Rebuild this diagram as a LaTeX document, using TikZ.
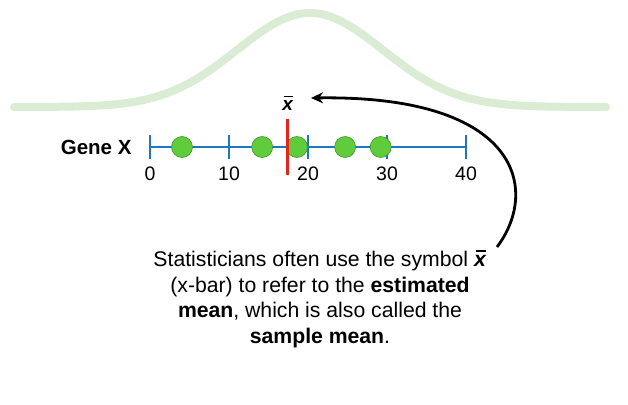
\documentclass[tikz,border=0pt]{standalone}
\usepackage{fontspec}
\setmainfont{Liberation Sans}
\usepackage{xcolor}
\usetikzlibrary{arrows.meta}
\definecolor{bellgreen}{RGB}{218,236,212}
\definecolor{axblue}{RGB}{30,118,196}
\definecolor{dotgreen}{RGB}{96,204,60}
\definecolor{dotedge}{RGB}{60,150,40}
\definecolor{meanred}{RGB}{230,36,30}
\tikzset{
  bell/.style={line width=8pt,bellgreen,line cap=round},
  ax/.style={line width=2.4pt,axblue},
  tk/.style={line width=2.2pt,axblue},
  pt/.style={circle,fill=dotgreen,draw=dotedge,line width=0.6pt,minimum size=21pt,inner sep=0pt},
  mn/.style={line width=3pt,meanred},
  ptr/.style={line width=2.8pt,-{Stealth[length=12pt,width=11pt]}},
  num/.style={font=\fontsize{19.5}{21}\selectfont,anchor=center}
}
\newcommand{\xbr}{\leavevmode\rlap{\hspace{0.1em}\raisebox{0.68em}{\rule{0.48em}{0.1em}}}\textbf{\textit{x}}}

\begin{document}
\begin{tikzpicture}[x=1pt,y=-1pt]
\useasboundingbox (0,0) rectangle (628,404);
\draw[bell] plot[domain=14:606,samples=120] (\x,{107-94*exp(-((\x-310)/73)^2/2)});
\coordinate (a0) at (150,147); \coordinate (a40) at (466,147);
\draw[ax] (a0) -- (a40);
\foreach \v in {0,10,20,30,40} {
  \draw[tk] (150+7.9*\v,135) -- (150+7.9*\v,159);
  \node[num] (n\v) at (150+7.9*\v,174) {\v};
}
\node[font=\bfseries\fontsize{20.5}{22}\selectfont,anchor=east] (gx) at (135,147) {Gene X};
\foreach \v [count=\i] in {4.05,14.2,18.6,24.7,29.2}
  \node[pt] (p\i) at (150+7.9*\v,147) {};
\coordinate (mt) at (287.5,119); \coordinate (mb) at (287.5,175);
\draw[mn] (mt) -- (mb);
\node[font=\fontsize{19}{20}\selectfont] (xb) at (288,103) {\xbr};
\node[align=center,font=\fontsize{21.2}{25.5}\selectfont] (txt) at (320,299)
  {Statisticians often use the symbol \xbr\\
   (x-bar) to refer to the \textbf{estimated}\\
   \textbf{mean}, which is also called the\\
   \textbf{sample mean}.};
\coordinate (as) at (497,247); \coordinate (ae) at (311,98);
\draw[ptr] (as) .. controls (540,190) and (520,95) .. (ae);
\end{tikzpicture}
\end{document}
